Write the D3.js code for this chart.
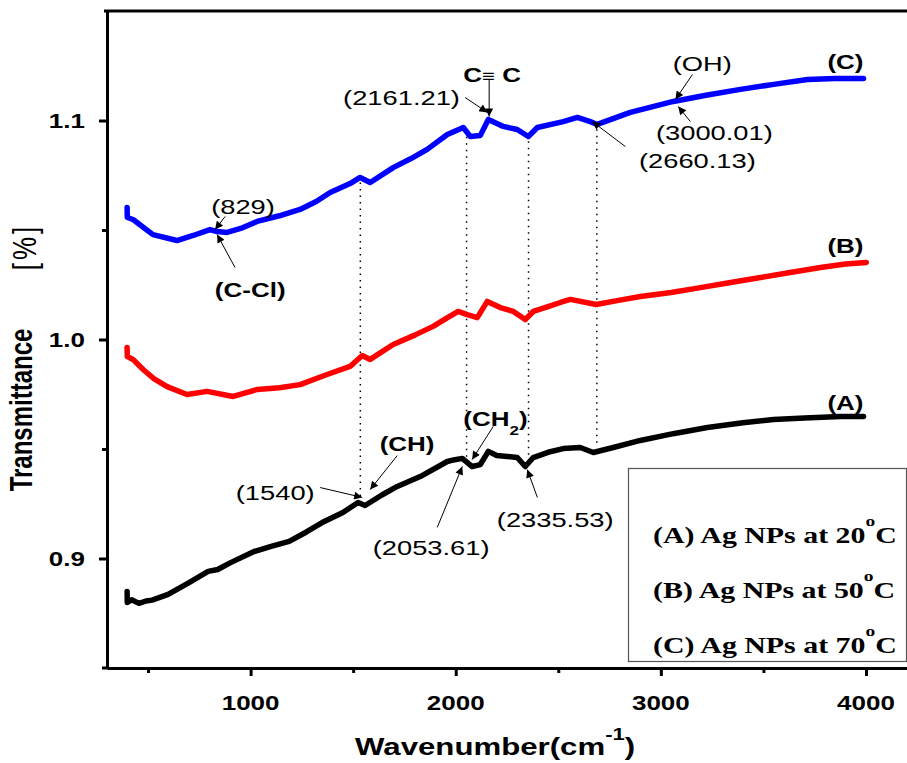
<!DOCTYPE html>
<html>
<head>
<meta charset="utf-8">
<script src="https://cdn.jsdelivr.net/npm/d3@7"></script>
<style>
  body { margin: 0; background: #fff; }
  svg { display: block; }
  text { font-family: "Liberation Sans", Arial, sans-serif; }
</style>
</head>
<body>
<svg id="chart" width="907" height="763"></svg>
<script>
// spectra: [wavenumber, transmittance]
const seriesA = [
  [398, 0.8849], [399, 0.8799], [420, 0.8812], [456, 0.8795], [490, 0.8806], [520, 0.8810],
  [598, 0.8836], [700, 0.8890], [793, 0.8941], [840, 0.8950], [900, 0.8980], [1017, 0.9032],
  [1100, 0.9055], [1188, 0.9078], [1270, 0.9120], [1359, 0.9169], [1450, 0.9210], [1524, 0.9256],
  [1558, 0.9242], [1640, 0.9290], [1715, 0.9329], [1827, 0.9374], [1959, 0.9443], [1990, 0.9450],
  [2032, 0.9457], [2080, 0.9420], [2120, 0.9429], [2159, 0.9489], [2200, 0.9470], [2251, 0.9466],
  [2300, 0.9461], [2339, 0.9420], [2378, 0.9461], [2450, 0.9485], [2524, 0.9502], [2607, 0.9507],
  [2671, 0.9484], [2768, 0.9507], [2900, 0.9539], [3060, 0.9570], [3227, 0.9598], [3400, 0.9620],
  [3549, 0.9635], [3700, 0.9642], [3876, 0.9648], [3988, 0.9648]
];
const seriesB = [
  [398, 0.9963], [399, 0.9922], [427, 0.9909], [476, 0.9863], [530, 0.9820], [593, 0.9785],
  [690, 0.9749], [788, 0.9763], [915, 0.9740], [1032, 0.9772], [1140, 0.9780], [1241, 0.9794],
  [1373, 0.9840], [1485, 0.9877], [1544, 0.9927], [1583, 0.9909], [1695, 0.9977], [1800, 1.0020],
  [1890, 1.0060], [1960, 1.0100], [2012, 1.0128], [2056, 1.0114], [2105, 1.0100], [2154, 1.0174],
  [2217, 1.0146], [2281, 1.0128], [2339, 1.0091], [2378, 1.0128], [2450, 1.0150], [2510, 1.0169],
  [2559, 1.0183], [2685, 1.0160], [2800, 1.0180], [2900, 1.0196], [3050, 1.0215], [3193, 1.0237],
  [3340, 1.0260], [3486, 1.0283], [3630, 1.0306], [3778, 1.0329], [3900, 1.0345], [4002, 1.0352]
];
const seriesC = [
  [398, 1.0603], [399, 1.0557], [427, 1.0548], [524, 1.0479], [641, 1.0452], [720, 1.0475],
  [802, 1.0502], [837, 1.0493], [885, 1.0489], [960, 1.0510], [1032, 1.0539], [1140, 1.0565],
  [1241, 1.0594], [1320, 1.0630], [1388, 1.0671], [1485, 1.0712], [1534, 1.0740], [1583, 1.0717],
  [1695, 1.0785], [1780, 1.0825], [1861, 1.0868], [1959, 1.0936], [2037, 1.0968], [2071, 1.0927],
  [2120, 1.0932], [2159, 1.1005], [2232, 1.0973], [2300, 1.0959], [2354, 1.0927], [2398, 1.0968],
  [2524, 1.0995], [2593, 1.1014], [2656, 1.0995], [2690, 1.0982], [2851, 1.1037], [3061, 1.1087],
  [3220, 1.1115], [3388, 1.1142], [3550, 1.1165], [3715, 1.1187], [3850, 1.1192], [3988, 1.1192]
];

const seriesNames = ["(A)", "(B)", "(C)"];
const seriesColors = ["#000000", "#ff0000", "#0000ff"];
const seriesTemps = [20, 50, 70];
const seriesLabelPos = [[3900, 0.968], [3900, 1.0397], [3900, 1.1233]];

const xMajor = [1000, 2000, 3000, 4000];
const xMinor = [500, 1500, 2500, 3500];
const yMajor = [0.9, 1.0, 1.1];
const yMinor = [0.95, 1.05];

// dotted guide lines (wavenumber)
const guideLines = [1535, 2053, 2355, 2688];

// peak annotations: text anchor + arrow from -> to, all in data units
const notes = [
  { t: "(829)", x: 963, y: 1.0575, a: "middle", b: false, from: [876, 1.0562], to: [827, 1.0502] },
  { t: "(C-Cl)", x: 998, y: 1.0196, a: "middle", b: true, from: [924, 1.0329], to: [837, 1.0479] },
  { t: "(2161.21)", x: 1451, y: 1.1073, a: "start", b: false, from: [2046, 1.1105], to: [2154, 1.1037] },
  { t: "(OH)", x: 3202, y: 1.1228, a: "middle", b: false, from: [3154, 1.1210], to: [3071, 1.1096] },
  { t: "(3000.01)", x: 3261, y: 1.0909, a: "middle", b: false, from: [3144, 1.0995], to: [3085, 1.1064] },
  { t: "(2660.13)", x: 3178, y: 1.0785, a: "middle", b: false, from: [2827, 1.0881], to: [2666, 1.0995] },
  { t: "(CH)", x: 1763, y: 0.9489, a: "middle", b: true, from: [1715, 0.9470], to: [1583, 0.9315] },
  { t: "(1540)", x: 1120, y: 0.9269, a: "middle", b: false, from: [1339, 0.9324], to: [1544, 0.9279] },
  { t: "(2053.61)", x: 1880, y: 0.9018, a: "middle", b: false, from: [1910, 0.9142], to: [2032, 0.9420] },
  { t: "(2335.53)", x: 2485, y: 0.9142, a: "middle", b: false, from: [2398, 0.9279], to: [2349, 0.9406] }
];

const SX = 1.3; // the figure is stretched horizontally

const svg = d3.select("#chart");
const W = 907, H = 763;
const mLeft = 107, mRight = 907, mTop = 11, mBottom = 668;

const x = d3.scaleLinear().domain([300, 4200]).range([mLeft, mRight]);
const y = d3.scaleLinear().domain([0.85, 1.15]).range([mBottom, mTop]);

svg.append("defs").append("marker")
  .attr("id", "head")
  .attr("viewBox", "0 0 10 10")
  .attr("refX", 10).attr("refY", 5)
  .attr("markerWidth", 11).attr("markerHeight", 8)
  .attr("markerUnits", "userSpaceOnUse")
  .attr("orient", "auto")
  .append("path").attr("d", "M0,0 L10,5 L0,10 z").attr("fill", "#000");

// stretched text helper
function stext(g, px, py, str, size, weight, anchor, family) {
  const t = g.append("g").attr("transform", "translate(" + px + "," + py + ") scale(" + SX + ",1)")
    .append("text")
    .attr("text-anchor", anchor || "start")
    .style("font-size", size + "px")
    .style("font-weight", weight || "normal");
  if (family) t.style("font-family", family);
  if (str !== null) t.text(str);
  return t;
}

// frame
svg.append("line").attr("x1", mLeft - 3).attr("x2", W).attr("y1", mTop).attr("y2", mTop)
  .attr("stroke", "#000").attr("stroke-width", 3);

const xAxisMajor = d3.axisBottom(x).tickValues(xMajor).tickSize(8).tickSizeOuter(0).tickFormat("");
const xAxisMinor = d3.axisBottom(x).tickValues(xMinor).tickSize(5).tickSizeOuter(0).tickFormat("");
const yAxisMajor = d3.axisLeft(y).tickValues(yMajor).tickSize(8).tickSizeOuter(0).tickFormat("");
const yAxisMinor = d3.axisLeft(y).tickValues(yMinor).tickSize(5).tickSizeOuter(0).tickFormat("");

[xAxisMajor, xAxisMinor].forEach(function(ax) {
  const g = svg.append("g").attr("transform", "translate(0," + mBottom + ")").call(ax);
  g.selectAll("path,line").attr("stroke", "#000").attr("stroke-width", 3);
});
[yAxisMajor, yAxisMinor].forEach(function(ax) {
  const g = svg.append("g").attr("transform", "translate(" + mLeft + ",0)").call(ax);
  g.selectAll("path,line").attr("stroke", "#000").attr("stroke-width", 3);
});
svg.append("line").attr("x1", mLeft - 5).attr("x2", mLeft).attr("y1", mBottom).attr("y2", mBottom)
  .attr("stroke", "#000").attr("stroke-width", 3);

// tick labels
xMajor.forEach(function(v) {
  stext(svg, x(v), mBottom + 42, d3.format("d")(v), 20, "bold", "middle");
});
yMajor.forEach(function(v) {
  stext(svg, mLeft - 22, y(v) + 7, d3.format(".1f")(v), 20, "bold", "end");
});

// axis titles
const xt = stext(svg, 355, 755, null, 24, "bold", "start");
xt.append("tspan").text("Wavenumber(cm");
xt.append("tspan").attr("dy", -15).style("font-size", "17px").text("-1");
xt.append("tspan").attr("dy", 15).text(")");

svg.append("g").attr("transform", "translate(32,410) scale(" + SX + ",1) rotate(-90)")
  .append("text").attr("text-anchor", "middle")
  .style("font-size", "24px").style("font-weight", "bold").text("Transmittance");
svg.append("g").attr("transform", "translate(36,247) scale(" + SX + ",1) rotate(-90)")
  .append("text").attr("text-anchor", "middle")
  .style("font-size", "26px").style("letter-spacing", "3px").text("[%]");

// dotted guides from curve C down to curve A
function valueAt(series, wn) {
  const i = d3.bisector(function(d) { return d[0]; }).left(series, wn);
  const a = series[Math.max(0, i - 1)], b = series[Math.min(series.length - 1, i)];
  if (a[0] === b[0]) return a[1];
  return a[1] + (b[1] - a[1]) * (wn - a[0]) / (b[0] - a[0]);
}
svg.append("g").selectAll("line").data(guideLines).enter().append("line")
  .attr("x1", function(d) { return x(d); }).attr("x2", function(d) { return x(d); })
  .attr("y1", function(d) { return y(valueAt(seriesC, d)) + 5; })
  .attr("y2", function(d) { return y(valueAt(seriesA, d)) - 5; })
  .attr("stroke", "#000").attr("stroke-width", 1.5).attr("stroke-dasharray", "1.5,5");

// spectra
const line = d3.line().x(function(d) { return x(d[0]); }).y(function(d) { return y(d[1]); });
[seriesA, seriesB, seriesC].forEach(function(s, i) {
  svg.append("path").datum(s)
    .attr("d", line)
    .attr("fill", "none")
    .attr("stroke", seriesColors[i])
    .attr("stroke-width", 5.5)
    .attr("stroke-linejoin", "round")
    .attr("stroke-linecap", "round");
  stext(svg, x(seriesLabelPos[i][0]), y(seriesLabelPos[i][1]), seriesNames[i], 20, "bold", "middle");
});

// annotations
const ann = svg.append("g").attr("class", "notes");
notes.forEach(function(n) {
  stext(ann, x(n.x), y(n.y), n.t, n.b ? 20 : 21, n.b ? "bold" : "normal", n.a);
  ann.append("line")
    .attr("x1", x(n.from[0])).attr("y1", y(n.from[1]))
    .attr("x2", x(n.to[0])).attr("y2", y(n.to[1]))
    .attr("stroke", "#000").attr("stroke-width", 1)
    .attr("marker-end", "url(#head)");
});

// C≡C with vertical arrow onto the 2161 peak
const cc = stext(ann, x(2037), y(1.1178), null, 20, "bold", "start");
cc.append("tspan").text("C");
cc.append("tspan").style("font-weight", "normal").style("font-size", "17px").text("\u2261");
cc.append("tspan").text(" C");
ann.append("line")
  .attr("x1", x(2163)).attr("y1", y(1.1187))
  .attr("x2", x(2163)).attr("y2", y(1.1018))
  .attr("stroke", "#000").attr("stroke-width", 1)
  .attr("marker-end", "url(#head)");

// (CH2) with subscript
const ch2 = stext(ann, x(2037), y(0.9603), null, 20, "bold", "start");
ch2.append("tspan").text("(CH");
ch2.append("tspan").attr("dy", 9).style("font-size", "13px").text("2");
ch2.append("tspan").attr("dy", -9).text(")");
ann.append("line")
  .attr("x1", x(2183)).attr("y1", y(0.9603))
  .attr("x2", x(2080)).attr("y2", y(0.9452))
  .attr("stroke", "#000").attr("stroke-width", 1)
  .attr("marker-end", "url(#head)");

// legend
const lg = svg.append("g").attr("class", "legend");
lg.append("rect").attr("x", 628.5).attr("y", 468.5).attr("width", 278).attr("height", 193)
  .attr("fill", "#fff").attr("stroke", "#555").attr("stroke-width", 1.2);
seriesNames.forEach(function(name, i) {
  const t = stext(lg, 653, 543 + i * 55, null, 23, "bold", "start", "'Liberation Serif', 'Times New Roman', serif");
  t.append("tspan").text(name + " Ag NPs at " + seriesTemps[i]);
  t.append("tspan").attr("dy", -17).style("font-size", "15px").text("o");
  t.append("tspan").attr("dy", 17).text("C");
});
</script>
</body>
</html>
